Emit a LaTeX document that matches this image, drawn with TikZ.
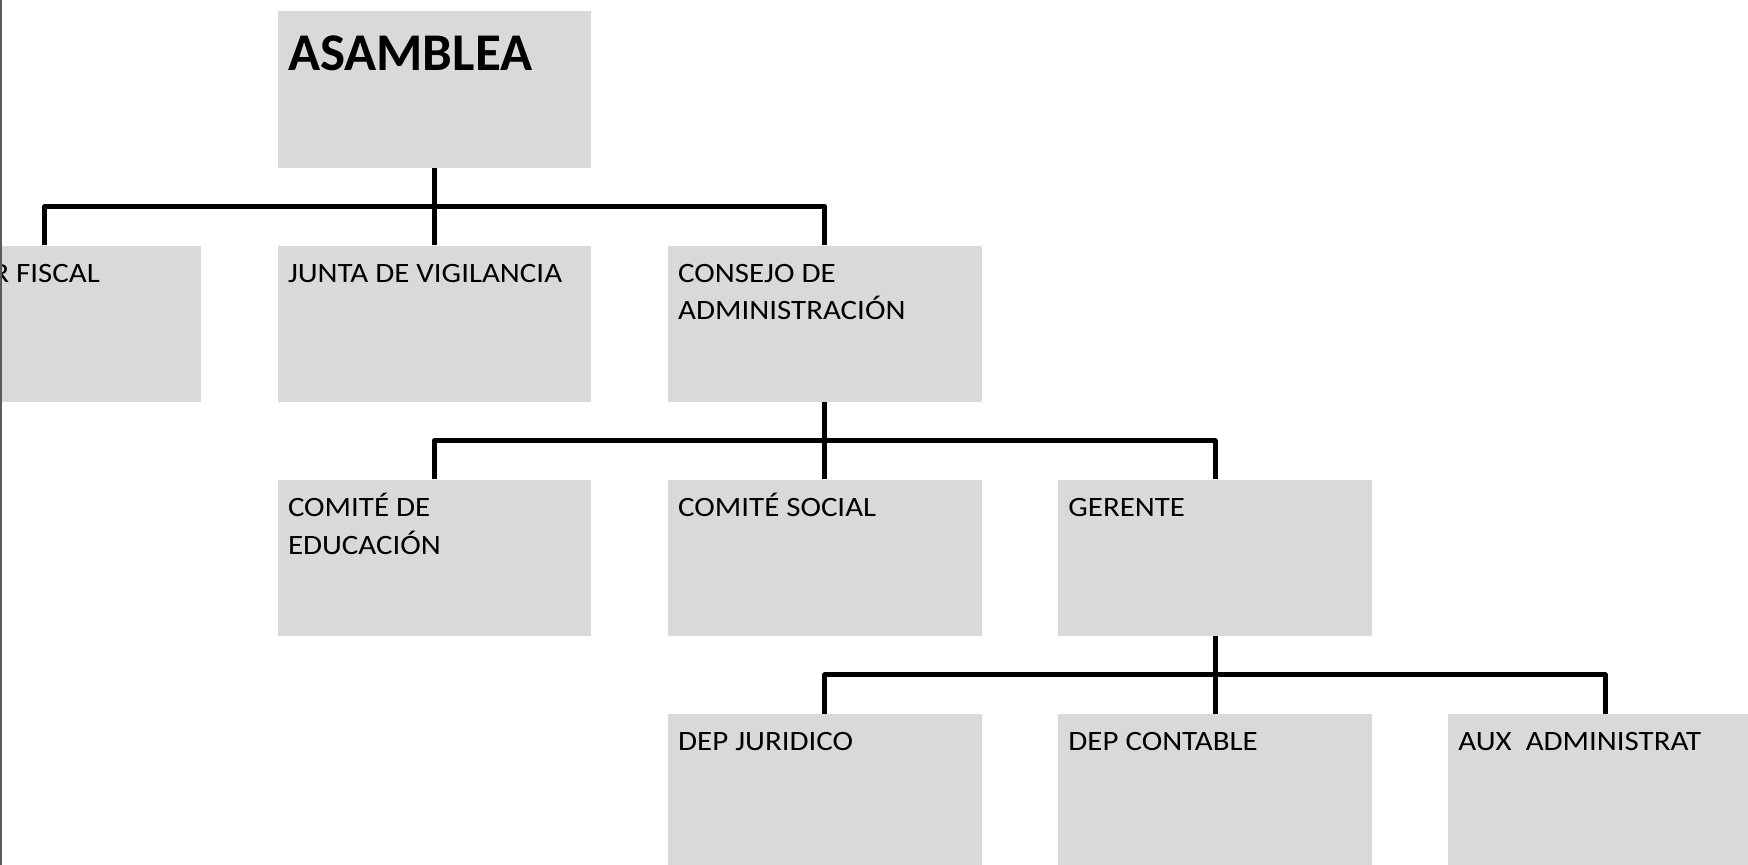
\documentclass[tikz,border=0pt]{standalone}
\usepackage{fontspec}
\setmainfont{Carlito}
\newfontfamily\lblfont[FakeStretch=1.105]{Carlito}
\usetikzlibrary{calc}
\definecolor{boxgray}{HTML}{D9D9D9}
\definecolor{edgegray}{HTML}{5A5A5A}
\begin{document}
\begin{tikzpicture}[x=0.5pt,y=-0.5pt,
  orgbox/.style={draw=none,fill=boxgray,minimum width=156.65pt,minimum height=78.05pt,inner sep=0pt,anchor=north west},
  lbl/.style={anchor=base west,inner sep=0pt,font=\lblfont\fontsize{14pt}{18.85pt}\selectfont,align=left},
  big/.style={anchor=base west,inner sep=0pt,font=\fontsize{26.5pt}{30pt}\selectfont\bfseries},
  conn/.style={line width=2.5pt,line join=round,black}]
\useasboundingbox (0,0) rectangle (1748,865);
\clip (0,0) rectangle (1748,865);
% boxes
\node[orgbox] (asm) at (277.6,11.1) {};
\node[orgbox] (fis) at (-112.6,245.3) {};
\node[orgbox] (jun) at (277.6,245.3) {};
\node[orgbox] (con) at (667.8,245.3) {};
\node[orgbox] (edu) at (277.6,479.4) {};
\node[orgbox] (soc) at (667.8,479.4) {};
\node[orgbox] (ger) at (1058,479.4) {};
\node[orgbox] (jur) at (667.8,713.5) {};
\node[orgbox] (cnt) at (1058,713.5) {};
\node[orgbox] (aux) at (1448,713.5) {};
% labels
\node[big] (tasm) at ($(asm.north west)+(10,59)$) {ASAMBLEA};
\node[lbl] (tfis) at (-8,282.3) {R FISCAL};
\node[lbl] (tjun) at ($(jun.north west)+(10,37)$) {JUNTA DE VIGILANCIA};
\node[lbl] (tcon) at ($(con.north west)+(10,74.7)$) {CONSEJO DE\\ADMINISTRACIÓN};
\node[lbl] (tedu) at ($(edu.north west)+(10,74.7)$) {COMITÉ DE\\EDUCACIÓN};
\node[lbl] (tsoc) at ($(soc.north west)+(10,37)$) {COMITÉ SOCIAL};
\node[lbl] (tger) at ($(ger.north west)+(10,37)$) {GERENTE};
\node[lbl] (tjur) at ($(jur.north west)+(10,37)$) {DEP JURIDICO};
\node[lbl] (tcnt) at ($(cnt.north west)+(10,37)$) {DEP CONTABLE};
\node[lbl] (taux) at ($(aux.north west)+(10,37)$) {AUX\ \ ADMINISTRAT};
% bars
\coordinate (b1) at ($(asm.south)!0.5!(jun.north)$);
\coordinate (b2) at ($(con.south)!0.5!(soc.north)$);
\coordinate (b3) at ($(ger.south)!0.5!(cnt.north)$);
% connectors
\draw[conn] (fis.north) |- (b1) -| (con.north);
\draw[conn] (asm.south) -- (jun.north);
\draw[conn] (edu.north) |- (b2) -| (ger.north);
\draw[conn] (con.south) -- (soc.north);
\draw[conn] (jur.north) |- (b3) -| (aux.north);
\draw[conn] (ger.south) -- (cnt.north);
% page edge
\draw[edgegray,line width=0.75pt] (1,0) -- (1,865);
\end{tikzpicture}
\end{document}
